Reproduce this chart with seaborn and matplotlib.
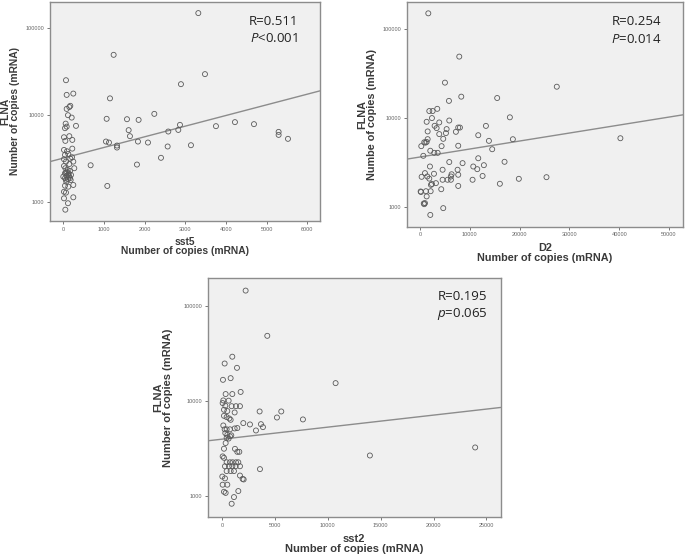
import numpy as np
import pandas as pd
import matplotlib
matplotlib.use("Agg")
import matplotlib.pyplot as plt
import seaborn as sns
from matplotlib.ticker import FixedLocator, FixedFormatter, NullLocator

# --- data ---
sst5_copies = [3320, 1238, 3484, 2893, 1148, 2238, 1066, 1566, 1852, 2869, 3754, 4221, 4689, 1607, 2582,
               2828, 1639, 5295, 5295, 5525, 1049, 1123, 1320, 1320, 1836, 2082, 2566, 3139, 2402, 672,
               1811, 1082,
               66, 83, 246, 172, 148, 83, 115, 206, 58, 83, 42, 312, 17, 148, 221, 50, 221, 17, 91, 123,
               42, 172, 17, 214, 66, 148, 246, 17, 270,
               50, 107, 164, 66, 132, 189, 83, 148, 42, 115, 181, 74,
               246, 42, 123, 17, 66, 246, 17, 115, 50,
               82, 41, 123, 0, 164, 66]
flna_sst5 = [148600, 49300, 29600, 22700, 15600, 10350, 9080, 8990, 8830, 7740, 7480, 8320, 7890, 6730, 6490,
             6770, 5740, 6430, 5940, 5350, 4980, 4850, 4480, 4250, 4980, 4850, 4370, 4520, 3240, 2660,
             2710, 1540,
             25200, 17100, 17700, 12800, 12400, 11800, 10000, 9380, 8000, 7390, 7090, 7540, 5580, 5740, 5200,
             5070, 4130, 3990, 3850, 3590, 3500, 3170, 3120, 3290, 2930, 2750, 2930, 2610, 2460,
             2460, 2350, 2290, 2190, 2150, 2060, 2010, 1970, 1890, 1840, 1800, 1720,
             1580, 1550, 1510, 1320, 1290, 1140, 1110, 975, 822,
             2250, 2150, 2060, 1970, 1890, 1810]

d2_copies = [1671, 7888, 5013, 27470, 8290, 5815, 15500, 18050, 40240, 18650, 14500, 13840, 11700, 13240,
             11700, 16980, 12830, 10700, 11500, 12570, 10560, 16040, 19850, 25400,
             3470, 1870, 2540, 2400, 1340, 5880, 3870, 2940, 3340, 5350, 7680, 8020, 1540, 3870, 5210,
             7210, 4670, 1540, 860, 1340, 1100, 260, 4340, 7680, 2070, 2870, 3550, 5880, 670, 2000,
             8550, 4540, 7550, 6350, 6210, 330, 1000, 1470, 1870, 2810, 2400, 3200, 2200, 4540, 5540,
             6210, 7680, 7680, 4270, 1200, 2140, 130, 200, 1340, 760, 860, 1000, 4670, 2070]
flna_d2 = [150000, 49000, 25000, 22500, 17400, 15600, 16800, 10200, 5940, 5790, 4470, 5550, 6420, 8170,
           3540, 3230, 2960, 2860, 2670, 2240, 2030, 1830, 2080, 2170,
           12700, 12000, 12000, 10000, 9080, 9390, 8930, 8190, 7720, 7520, 7830, 7830, 7080, 6610, 6780,
           7010, 5850, 5800, 5350, 5400, 5300, 4840, 4840, 4890, 4300, 4070, 4070, 3210, 3770, 2860,
           3120, 2630, 2630, 2340, 2210, 2190, 2410, 2210, 2090, 2370, 1820, 1860, 1780, 2030, 2030,
           2030, 2310, 1730, 1590, 1510, 1510, 1500, 1480, 1320, 1100, 1080, 1110, 975, 818]

sst2_copies = [2235, 4282, 10740, 3558, 5605, 5195, 7651, 2645, 3684, 3873, 3212, 13980, 23930, 3590, 2015,
               975, 252, 1418, 94, 819, 1764, 347, 977, 126, 630, 63, 315, 915, 1323, 1700, 189, 504,
               1197, 189, 441, 693, 819, 126, 252, 441, 756, 1197, 1449, 315, 504, 756, 441, 630, 880,
               347, 189, 1229, 1449, 1638, 63, 189, 441, 756, 1008, 1323, 1544, 283, 662, 977, 1292,
               1702, 441, 819, 1134, 32, 284, 1700, 1953, 2048, 63, 504, 189, 347, 1544, 1134, 915]
flna_sst2 = [147000, 49100, 15600, 7850, 7850, 6780, 6470, 5730, 5770, 5370, 4950, 2700, 3280, 1940, 5920,
             29600, 25100, 22600, 16900, 17600, 12600, 11970, 11970, 10260, 10200, 9620, 9010, 8920, 8920,
             8920, 8180, 7930, 7660, 7060, 6850, 6620, 6410, 5590, 5090, 5090, 5090, 5200, 5250, 4640,
             4450, 4300, 4150, 4070, 4400, 3650, 3180, 3170, 2950, 2950, 2640, 2550, 2290, 2290, 2290,
             2290, 2290, 2080, 2080, 2080, 2080, 2080, 1850, 1850, 1850, 1620, 1550, 1660, 1530, 1510,
             1330, 1330, 1120, 1090, 1140, 985, 838]

# log10(FLNA) = a + b * x  (fit lines as drawn)
fit_sst5 = (3.507, 1.2235e-4)
fit_d2 = (3.563, 8.967e-6)
fit_sst2 = (3.603, 1.2676e-5)

y_ticks = [1000, 10000, 100000]
y_tick_labels = ["1000", "10000", "100000"]
sst5_ticks = [0, 1000, 2000, 3000, 4000, 5000, 6000]
d2_ticks = [0, 10000, 20000, 30000, 40000, 50000]
sst2_ticks = [0, 5000, 10000, 15000, 20000, 25000]

# --- style ---
sns.set_style("white")
plt.rcParams['font.family'] = ['Liberation Sans', 'DejaVu Sans']
plt.rcParams['mathtext.fontset'] = 'custom'
plt.rcParams['mathtext.rm'] = 'Open Sans'
plt.rcParams['mathtext.it'] = 'Open Sans:italic'

fig = plt.figure(figsize=(6.85, 5.58), dpi=100)

panels = [
    dict(rect=[0.073, 0.604, 0.394, 0.3925], x=sst5_copies, y=flna_sst5, fit=fit_sst5,
         xlim=(-327, 6310), ylim=(610, 199500), xticks=sst5_ticks,
         xlabel="sst5\nNumber of copies (mRNA)", ylabel="FLNA\nNumber of copies (mRNA)",
         r_txt="R=0.511", p_txt="$P$<0.001", fs=7.4, tx=0.919, ry=0.909, py=0.831,
         ylx=-0.111, xly=-0.071),
    dict(rect=[0.5937, 0.5937, 0.4038, 0.4027], x=d2_copies, y=flna_d2, fit=fit_d2,
         xlim=(-2670, 52870), ylim=(603, 201000), xticks=d2_ticks,
         xlabel="D2\nNumber of copies (mRNA)", ylabel="FLNA\nNumbe of copies (mRNA)",
         r_txt="R=0.254", p_txt="$P$=0.014", fs=7.8, tx=0.922, ry=0.912, py=0.831,
         ylx=-0.107, xly=-0.073),
    dict(rect=[0.3032, 0.0729, 0.4277, 0.4289], x=sst2_copies, y=flna_sst2, fit=fit_sst2,
         xlim=(-1350, 26340), ylim=(603, 199500), xticks=sst2_ticks,
         xlabel="sst2\nNumber of copies (mRNA)", ylabel="FLNA\nNumber of copies (mRNA)",
         r_txt="R=0.195", p_txt="$p$=0.065", fs=8.0, tx=0.954, ry=0.922, py=0.848,
         ylx=-0.12, xly=-0.07),
]

for p in panels:
    ax = fig.add_axes(p["rect"])
    ax.set_facecolor("#f0f0f0")
    df = pd.DataFrame({"copies": p["x"], "flna": p["y"]})
    sns.scatterplot(data=df, x="copies", y="flna", ax=ax, s=13, marker="o", zorder=3)
    pts = ax.collections[-1]
    pts.set_facecolor("none")
    pts.set_edgecolor("#5a5a5a")
    pts.set_linewidth(0.6)

    a, b = p["fit"]
    xs = np.array(p["xlim"], dtype=float)
    ax.plot(xs, 10 ** (a + b * xs), color="#8c8c8c", lw=1.0, zorder=2)

    ax.set_yscale("log")
    ax.set_xlim(p["xlim"])
    ax.set_ylim(p["ylim"])
    ax.yaxis.set_major_locator(FixedLocator(y_ticks))
    ax.yaxis.set_major_formatter(FixedFormatter(y_tick_labels))
    ax.yaxis.set_minor_locator(NullLocator())
    ax.set_xticks(p["xticks"])
    ax.set_xticklabels([str(t) for t in p["xticks"]])
    ax.tick_params(axis="both", which="major", labelsize=4, labelcolor="#666666",
                   length=2.5, width=0.7, color="#777777", pad=1.5, direction="out",
                   bottom=True, left=True)

    for sp in ax.spines.values():
        sp.set_color("#8c8c8c")
        sp.set_linewidth(1.0)

    ax.set_xlabel(p["xlabel"], fontsize=p["fs"], fontweight="bold", color="#3a3a3a",
                  linespacing=0.95)
    ax.set_ylabel(p["ylabel"], fontsize=p["fs"], fontweight="bold", color="#3a3a3a",
                  linespacing=0.95)
    ax.xaxis.set_label_coords(0.5, p["xly"])
    ax.yaxis.set_label_coords(p["ylx"], 0.5)

    ax.text(p["tx"], p["ry"], p["r_txt"], transform=ax.transAxes, ha="right", va="center",
            fontsize=9.5, family="Open Sans", color="#222222")
    ax.text(p["tx"], p["py"], p["p_txt"], transform=ax.transAxes, ha="right", va="center",
            fontsize=9.5, family="Open Sans", color="#222222")

fig.savefig("out.png", dpi=100)
